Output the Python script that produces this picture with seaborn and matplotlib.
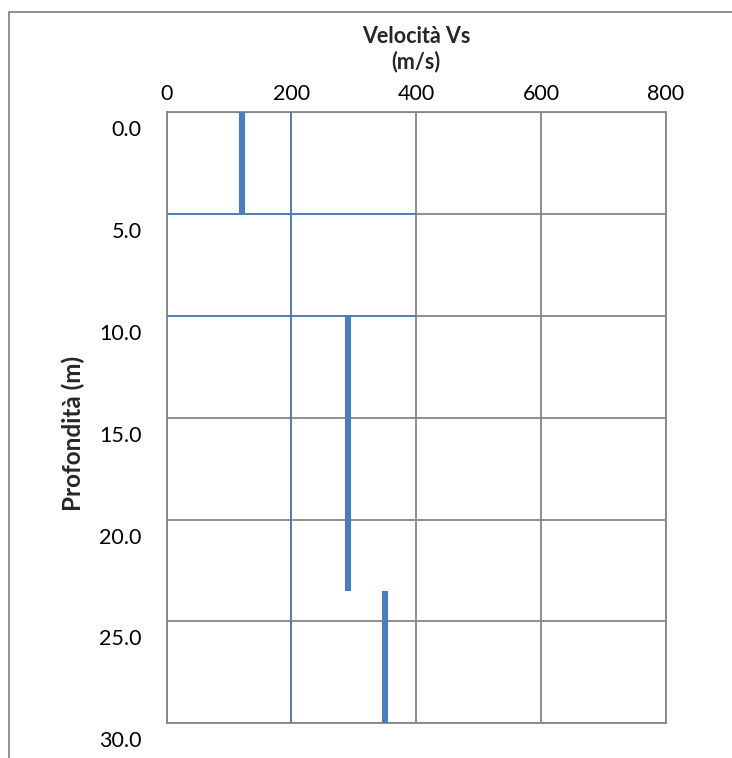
import matplotlib
matplotlib.use("Agg")
import matplotlib.pyplot as plt
import matplotlib.transforms as mtrans
from matplotlib.patches import Rectangle
import seaborn as sns
import pandas as pd

# ---- data ----
vs_layers = [120, 290, 350]          # m/s
depth_top = [0.0, 10.0, 23.5]        # m
depth_bot = [5.0, 23.5, 30.0]        # m

ref_vs = [200, 200]                  # thin vertical reference line
ref_depth = [0.0, 30.0]
hline_depths = [5.0, 10.0]           # thin horizontal boundaries
hline_vs = [0, 400]

x_ticks = [0, 200, 400, 600, 800]
y_ticks = [0, 5, 10, 15, 20, 25, 30]
y_tick_labels = ["0.0", "5.0", "10.0", "15.0", "20.0", "25.0", "30.0"]

title_text = "Velocità Vs\n(m/s)"
ylabel_text = "Profondità (m)"

# ---- tables ----
rows = []
for i, (v, t, b) in enumerate(zip(vs_layers, depth_top, depth_bot)):
    rows.append({"layer": i, "vs": v, "depth": t})
    rows.append({"layer": i, "vs": v, "depth": b})
prof = pd.DataFrame(rows)

thin_rows = []
for d in ref_depth:
    thin_rows.append({"line": 0, "vs": ref_vs[0], "depth": d})
for j, hd in enumerate(hline_depths):
    for v in hline_vs:
        thin_rows.append({"line": j + 1, "vs": v, "depth": hd})
thin = pd.DataFrame(thin_rows)

sns.set_theme(style="white")
plt.rcParams["font.family"] = ["Lato", "DejaVu Sans"]

BLUE = "#4a7ebb"
GRAY = "#868686"

W, H = 732, 758
fig = plt.figure(figsize=(W / 100, H / 100), dpi=100)
left, right, top, bottom = 166.7, 665.7, 112.3, 723.3
ax = fig.add_axes([left / W, 1 - bottom / H, (right - left) / W, (bottom - top) / H])

sns.lineplot(data=thin, x="vs", y="depth", units="line", estimator=None, sort=False,
             color=BLUE, lw=1.3, ax=ax, zorder=3)
sns.lineplot(data=prof, x="vs", y="depth", units="layer", estimator=None, sort=False,
             color=BLUE, lw=4.4, solid_capstyle="butt", ax=ax, zorder=4)

ax.set_xlim(0, 800)
ax.set_ylim(30, 0)
ax.set_xticks(x_ticks)
ax.set_yticks(y_ticks)
ax.set_yticklabels(y_tick_labels)
ax.xaxis.tick_top()
ax.xaxis.set_label_position("top")
ax.tick_params(axis="both", length=0, labelsize=15.5, colors="black")
ax.tick_params(axis="x", pad=6)
ax.tick_params(axis="y", pad=18)
ax.grid(True, color=GRAY, lw=1.3, zorder=1)
ax.set_axisbelow(True)
for s in ax.spines.values():
    s.set_color(GRAY)
    s.set_linewidth(1.3)

# shift y tick labels downward (as in the reference)
offset = mtrans.ScaledTranslation(0, -16 / 100, fig.dpi_scale_trans)
for lab in ax.get_yticklabels():
    lab.set_transform(lab.get_transform() + offset)

ax.set_xlabel(title_text, fontsize=15.5, fontweight="bold", labelpad=11, linespacing=1.25)
ax.set_ylabel("")
fig.text(73 / W, 1 - 433 / H, ylabel_text, rotation=90, ha="center", va="center",
         fontsize=17.5, fontweight="bold")

fig.add_artist(Rectangle((9 / W, -0.1), 1.2, 1.1 - 12 / H, transform=fig.transFigure,
                         fill=False, edgecolor="#898989", lw=1.3))

fig.savefig("out.png", dpi=100)
